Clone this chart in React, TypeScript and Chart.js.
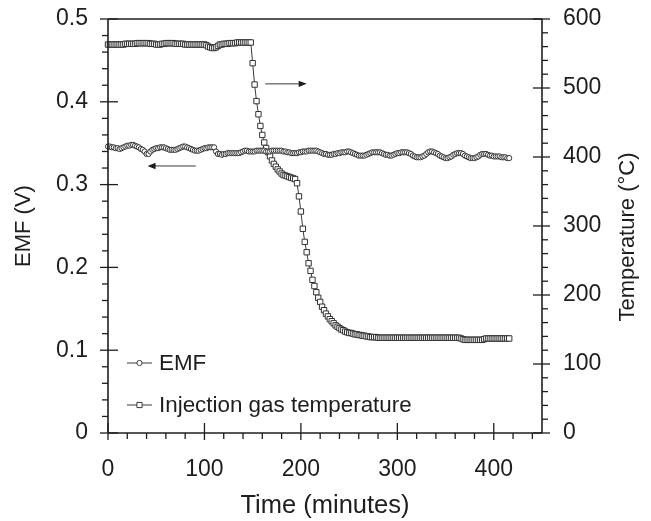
import React, { useEffect, useRef } from "react";
import { Chart, registerables } from "chart.js";

Chart.register(...registerables);

// ---- data ----
const timeMinutes = [
  0, 2, 4, 6, 8, 10, 12, 14, 16, 18,
  20, 22, 24, 26, 28, 30, 32, 34, 36, 38,
  40, 42, 44, 46, 48, 50, 52, 54, 56, 58,
  60, 62, 64, 66, 68, 70, 72, 74, 76, 78,
  80, 82, 84, 86, 88, 90, 92, 94, 96, 98,
  100, 102, 104, 106, 108, 110, 112, 114, 116, 118,
  120, 122, 124, 126, 128, 130, 132, 134, 136, 138,
  140, 142, 144, 146, 148, 150, 152, 154, 156, 158,
  160, 162, 164, 166, 168, 170, 172, 174, 176, 178,
  180, 182, 184, 186, 188, 190, 192, 194, 196, 198,
  200, 202, 204, 206, 208, 210, 212, 214, 216, 218,
  220, 222, 224, 226, 228, 230, 232, 234, 236, 238,
  240, 242, 244, 246, 248, 250, 252, 254, 256, 258,
  260, 262, 264, 266, 268, 270, 272, 274, 276, 278,
  280, 282, 284, 286, 288, 290, 292, 294, 296, 298,
  300, 302, 304, 306, 308, 310, 312, 314, 316, 318,
  320, 322, 324, 326, 328, 330, 332, 334, 336, 338,
  340, 342, 344, 346, 348, 350, 352, 354, 356, 358,
  360, 362, 364, 366, 368, 370, 372, 374, 376, 378,
  380, 382, 384, 386, 388, 390, 392, 394, 396, 398,
  400, 402, 404, 406, 408, 410, 412, 414, 416,
];

const emfVolts = [
  0.346, 0.346, 0.345, 0.345, 0.344, 0.344, 0.343, 0.344, 0.345, 0.346,
  0.347, 0.347, 0.348, 0.348, 0.347, 0.346, 0.345, 0.343, 0.342, 0.340,
  0.337, 0.337, 0.340, 0.342, 0.343, 0.344, 0.344, 0.345, 0.345, 0.345,
  0.344, 0.343, 0.342, 0.342, 0.342, 0.342, 0.343, 0.344, 0.345, 0.346,
  0.346, 0.345, 0.344, 0.343, 0.342, 0.341, 0.341, 0.341, 0.342, 0.343,
  0.344, 0.344, 0.345, 0.345, 0.345, 0.345, 0.340, 0.337, 0.337, 0.336,
  0.337, 0.337, 0.338, 0.338, 0.338, 0.338, 0.338, 0.338, 0.338, 0.339,
  0.340, 0.341, 0.341, 0.340, 0.340, 0.340, 0.340, 0.341, 0.341, 0.341,
  0.341, 0.341, 0.340, 0.340, 0.340, 0.341, 0.341, 0.341, 0.341, 0.341,
  0.341, 0.340, 0.340, 0.339, 0.339, 0.338, 0.338, 0.338, 0.338, 0.339,
  0.339, 0.340, 0.340, 0.340, 0.341, 0.341, 0.341, 0.341, 0.341, 0.340,
  0.339, 0.338, 0.337, 0.337, 0.336, 0.336, 0.336, 0.337, 0.337, 0.338,
  0.338, 0.339, 0.339, 0.339, 0.340, 0.340, 0.339, 0.338, 0.337, 0.336,
  0.335, 0.335, 0.335, 0.335, 0.336, 0.337, 0.338, 0.339, 0.339, 0.339,
  0.339, 0.339, 0.338, 0.337, 0.336, 0.336, 0.335, 0.335, 0.336, 0.337,
  0.338, 0.338, 0.339, 0.339, 0.339, 0.339, 0.338, 0.337, 0.335, 0.334,
  0.333, 0.333, 0.333, 0.334, 0.335, 0.337, 0.339, 0.340, 0.340, 0.339,
  0.338, 0.337, 0.335, 0.334, 0.333, 0.332, 0.332, 0.333, 0.334, 0.336,
  0.337, 0.338, 0.338, 0.338, 0.337, 0.335, 0.334, 0.333, 0.332, 0.332,
  0.332, 0.333, 0.334, 0.336, 0.337, 0.337, 0.337, 0.336, 0.335, 0.335,
  0.334, 0.334, 0.334, 0.334, 0.333, 0.333, 0.333, 0.332, 0.332,
];

const injectionTempC = [
  563, 563, 563, 563, 563, 563, 563, 563, 563, 564,
  564, 564, 564, 564, 564, 565, 565, 565, 565, 565,
  565, 565, 564, 564, 564, 563, 563, 563, 564, 564,
  565, 565, 565, 565, 565, 564, 564, 564, 564, 564,
  563, 563, 563, 563, 563, 563, 563, 563, 563, 563,
  563, 562, 560, 559, 558, 558, 559, 561, 563, 563,
  564, 564, 564, 565, 565, 565, 565, 566, 566, 566,
  566, 566, 566, 566, 566, 536, 505, 481, 462, 445,
  432, 421, 413, 407, 401, 395, 390, 386, 382, 379,
  376, 374, 373, 372, 371, 370, 369, 368, 362, 343,
  321, 296, 277, 262, 246, 235, 222, 213, 204, 196,
  190, 183, 178, 173, 169, 165, 162, 159, 156, 154,
  152, 150, 149, 147, 146, 145, 145, 144, 143, 143,
  142, 142, 141, 141, 140, 140, 139, 139, 139, 139,
  138, 138, 138, 138, 138, 138, 138, 138, 138, 138,
  138, 138, 138, 138, 138, 138, 138, 138, 138, 138,
  138, 138, 138, 138, 138, 138, 138, 138, 138, 138,
  138, 138, 138, 138, 138, 138, 138, 138, 138, 138,
  138, 138, 138, 137, 136, 135, 135, 135, 135, 135,
  135, 135, 135, 135, 135, 136, 137, 137, 137, 137,
  137, 137, 137, 137, 137, 137, 137, 137, 137,
];

const xTickValues = [0, 100, 200, 300, 400];
const xTickLabels = ["0", "100", "200", "300", "400"];
const emfTickValues = [0, 0.1, 0.2, 0.3, 0.4, 0.5];
const emfTickLabels = ["0", "0.1", "0.2", "0.3", "0.4", "0.5"];
const tempTickValues = [0, 100, 200, 300, 400, 500, 600];
const tempTickLabels = ["0", "100", "200", "300", "400", "500", "600"];

const legendLabels = ["EMF", "Injection gas temperature"];

// arrow annotations (data coordinates)
const emfArrow = { fromX: 91, toX: 41, y: 0.3225 };
const tempArrow = { fromX: 163, toX: 206, y: 506 };

const FONT = "'Liberation Sans', Arial, Helvetica, sans-serif";
const INK = "#1e1e1e";
const LINE = "#3a3a3a";
const TICK_SIZE = 23;
const LEGEND_SIZE = 22.4;
const XTITLE_SIZE = 25.5;
const YTITLE_SIZE = 22;

export default function App() {
  const ref = useRef<HTMLCanvasElement | null>(null);

  useEffect(() => {
    document.body.style.margin = "0";
    const canvas = ref.current;
    if (!canvas) return;

    const seg = (ctx: CanvasRenderingContext2D, x1: number, y1: number, x2: number, y2: number) => {
      ctx.beginPath();
      ctx.moveTo(x1, y1);
      ctx.lineTo(x2, y2);
      ctx.stroke();
    };

    const decor = {
      id: "decor",
      afterDraw(chart: any) {
        const ctx: CanvasRenderingContext2D = chart.ctx;
        const a = chart.chartArea;
        const sx = chart.scales.x;
        const sy = chart.scales.y;
        const sy1 = chart.scales.y1;
        ctx.save();
        ctx.strokeStyle = INK;
        ctx.lineCap = "butt";

        // frame
        ctx.lineWidth = 1.6;
        seg(ctx, a.left, a.top, a.right, a.top);
        seg(ctx, a.left, a.bottom, a.right, a.bottom);
        seg(ctx, a.left, a.top, a.left, a.bottom);
        seg(ctx, a.right, a.top, a.right, a.bottom);

        ctx.lineWidth = 1.3;
        // x ticks: minors every 20 (outside), majors crossing
        for (let v = 0; v <= 450; v += 20) {
          const px = sx.getPixelForValue(v);
          if (v % 100 === 0) seg(ctx, px, a.bottom - 10, px, a.bottom + 7);
          else seg(ctx, px, a.bottom, px, a.bottom + 6);
        }
        // left ticks
        for (let i = 0; i <= 25; i++) {
          const v = i * 0.02;
          const py = sy.getPixelForValue(v);
          if (i % 5 === 0) seg(ctx, a.left - 8, py, a.left + 10, py);
          else seg(ctx, a.left - 6, py, a.left, py);
        }
        // right ticks
        for (let v = 0; v <= 600; v += 20) {
          const py = sy1.getPixelForValue(v);
          if (v % 100 === 0) seg(ctx, a.right - 9, py, a.right + 8, py);
          else seg(ctx, a.right, py, a.right + 6, py);
        }

        // arrows
        const drawArrow = (x1: number, x2: number, y: number) => {
          ctx.strokeStyle = LINE;
          ctx.fillStyle = INK;
          ctx.lineWidth = 1;
          const dir = Math.sign(x2 - x1);
          seg(ctx, x1, y, x2 - dir * 6, y);
          ctx.beginPath();
          ctx.moveTo(x2, y);
          ctx.lineTo(x2 - dir * 8, y - 3.2);
          ctx.lineTo(x2 - dir * 8, y + 3.2);
          ctx.closePath();
          ctx.fill();
        };
        drawArrow(sx.getPixelForValue(emfArrow.fromX), sx.getPixelForValue(emfArrow.toX), sy.getPixelForValue(emfArrow.y));
        drawArrow(sx.getPixelForValue(tempArrow.fromX), sx.getPixelForValue(tempArrow.toX), sy1.getPixelForValue(tempArrow.y));

        // legend
        const lx0 = a.left + 19;
        const lx1 = a.left + 44;
        const rows = [a.bottom - 70, a.bottom - 28];
        ctx.font = `${LEGEND_SIZE}px ${FONT}`;
        ctx.textBaseline = "middle";
        ctx.textAlign = "left";
        rows.forEach((ry, i) => {
          ctx.strokeStyle = LINE;
          ctx.lineWidth = 1;
          seg(ctx, lx0, ry, lx1, ry);
          const cx = (lx0 + lx1) / 2;
          ctx.fillStyle = "#fff";
          ctx.beginPath();
          if (i === 0) ctx.arc(cx, ry, 2.6, 0, Math.PI * 2);
          else ctx.rect(cx - 2.6, ry - 2.6, 5.2, 5.2);
          ctx.fill();
          ctx.stroke();
          ctx.fillStyle = INK;
          ctx.fillText(legendLabels[i], lx1 + 7, ry + 1);
        });

        // right axis title (reads bottom-to-top)
        ctx.save();
        ctx.font = `${YTITLE_SIZE}px ${FONT}`;
        ctx.translate(628, (a.top + a.bottom) / 2 + 11);
        ctx.rotate(-Math.PI / 2);
        ctx.textAlign = "center";
        ctx.textBaseline = "middle";
        ctx.fillStyle = INK;
        ctx.fillText("Temperature (\u00B0C)", 0, 0);
        ctx.restore();

        ctx.restore();
      },
    };

    const tickFont = { size: TICK_SIZE, family: FONT };
    const noVPad = (w: number) => (s: any) => {
      s.width = w;
      s.paddingTop = 0;
      s.paddingBottom = 0;
    };

    const chart = new Chart(canvas, {
      type: "line",
      data: {
        datasets: [
          {
            label: legendLabels[0],
            data: timeMinutes.map((t, i) => ({ x: t, y: emfVolts[i] })),
            yAxisID: "y",
            borderColor: LINE,
            borderWidth: 1,
            pointStyle: "circle",
            pointRadius: 2.6,
            pointBorderWidth: 1,
            pointBackgroundColor: "#ffffff",
            pointBorderColor: "#333",
            tension: 0,
            clip: false,
          } as any,
          {
            label: legendLabels[1],
            data: timeMinutes.map((t, i) => ({ x: t, y: injectionTempC[i] })),
            yAxisID: "y1",
            borderColor: LINE,
            borderWidth: 1,
            pointStyle: "rect",
            pointRadius: 3.8,
            pointBorderWidth: 1,
            pointBackgroundColor: "#ffffff",
            pointBorderColor: "#333",
            tension: 0,
            clip: false,
          } as any,
        ],
      },
      options: {
        responsive: false,
        animation: false,
        events: [],
        layout: { autoPadding: false, padding: { top: 19, left: 0, right: 0, bottom: 0 } },
        plugins: { legend: { display: false }, tooltip: { enabled: false } },
        scales: {
          x: {
            type: "linear",
            min: 0,
            max: 450,
            afterBuildTicks: (s: any) => {
              s.ticks = xTickValues.map((v) => ({ value: v }));
            },
            afterFit: (s: any) => {
              s.height = 88;
              s.paddingLeft = 0;
              s.paddingRight = 0;
            },
            grid: { display: false, drawTicks: false },
            border: { display: false },
            ticks: {
              padding: 23,
              color: INK,
              font: tickFont,
              maxRotation: 0,
              autoSkip: false,
              callback: (_v: any, i: number) => xTickLabels[i],
            },
            title: {
              display: true,
              text: "Time (minutes)",
              color: INK,
              font: { size: XTITLE_SIZE, family: FONT },
              padding: { top: 0, bottom: 0 },
            },
          },
          y: {
            type: "linear",
            position: "left",
            min: 0,
            max: 0.5,
            afterBuildTicks: (s: any) => {
              s.ticks = emfTickValues.map((v) => ({ value: v }));
            },
            afterFit: noVPad(108),
            grid: { display: false, drawTicks: false },
            border: { display: false },
            ticks: {
              padding: 20,
              color: INK,
              font: tickFont,
              autoSkip: false,
              callback: (_v: any, i: number) => emfTickLabels[i],
            },
            title: {
              display: true,
              text: "EMF (V)",
              color: INK,
              font: { size: YTITLE_SIZE, family: FONT },
              padding: { top: 11, bottom: 0 },
            },
          },
          y1: {
            type: "linear",
            position: "right",
            min: 0,
            max: 600,
            afterBuildTicks: (s: any) => {
              s.ticks = tempTickValues.map((v) => ({ value: v }));
            },
            afterFit: noVPad(109),
            grid: { display: false, drawTicks: false },
            border: { display: false },
            ticks: {
              padding: 21,
              color: INK,
              font: tickFont,
              autoSkip: false,
              callback: (_v: any, i: number) => tempTickLabels[i],
            },
            title: { display: false },
          },
        },
      } as any,
      plugins: [decor],
    });

    return () => chart.destroy();
  }, []);

  return <canvas ref={ref} width={651} height={521} style={{ display: "block" }} />;
}
